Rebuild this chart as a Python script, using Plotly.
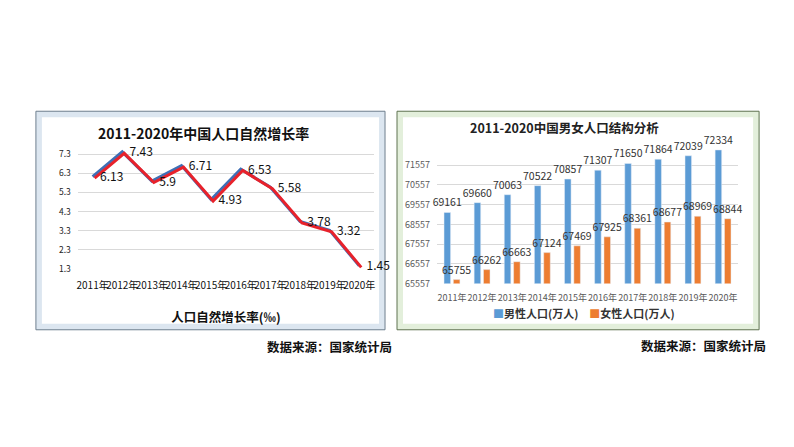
import plotly.graph_objects as go

W, H = 794, 447

years = ["2011年", "2012年", "2013年", "2014年", "2015年", "2016年", "2017年", "2018年", "2019年", "2020年"]
growth_rate = [6.13, 7.43, 5.9, 6.71, 4.93, 6.53, 5.58, 3.78, 3.32, 1.45]
growth_ticks = [1.3, 2.3, 3.3, 4.3, 5.3, 6.3, 7.3]

male_pop = [69161, 69660, 70063, 70522, 70857, 71307, 71650, 71864, 72039, 72334]
female_pop = [65755, 66262, 66663, 67124, 67469, 67925, 68361, 68677, 68969, 68844]
pop_ticks = [65557, 66557, 67557, 68557, 69557, 70557, 71557]

series_names = ["男性人口(万人)", "女性人口(万人)"]
series_colors = ["#5B9BD5", "#ED7D31"]

CJK = "Noto Sans CJK SC"


def px_x(p):
    return p / W


def px_y(p):
    return 1 - p / H


fig = go.Figure()

# Left chart: blue line on the main axes, red line on a slightly offset overlay
fig.add_trace(go.Scatter(
    x=years, y=growth_rate, mode="lines", xaxis="x", yaxis="y",
    line=dict(color="#3F6FB5", width=3), showlegend=False, hoverinfo="skip"))
fig.add_trace(go.Scatter(
    x=years, y=growth_rate, mode="lines+text", xaxis="x3", yaxis="y3",
    line=dict(color="#E8222B", width=3),
    text=["\u00a0\u00a0" + str(v) for v in growth_rate], textposition="middle right",
    textfont=dict(family=CJK, size=12, color="#111111"),
    cliponaxis=False, showlegend=False))

# Right chart: grouped bars
fig.add_trace(go.Bar(
    x=years, y=male_pop, name=series_names[0], xaxis="x2", yaxis="y2",
    marker=dict(color=series_colors[0]),
    text=[str(v) for v in male_pop], textposition="outside", constraintext="none",
    textfont=dict(family=CJK, size=10.5, color="#333333"), cliponaxis=False,
    showlegend=False))
fig.add_trace(go.Bar(
    x=years, y=female_pop, name=series_names[1], xaxis="x2", yaxis="y2",
    marker=dict(color=series_colors[1]),
    text=[str(v) for v in female_pop], textposition="outside", constraintext="none",
    textfont=dict(family=CJK, size=10.5, color="#333333"), cliponaxis=False,
    showlegend=False))

# axis geometry (pixels)
lx0, lx1 = 78, 375
ly_bot, ly_top = 272, 150
rx0, rx1 = 437, 739
ry_bot, ry_top = 287, 146

fig.update_layout(
    width=W, height=H, margin=dict(l=0, r=0, t=0, b=0),
    paper_bgcolor="white", plot_bgcolor="rgba(0,0,0,0)",
    barmode="group", bargap=0.38, bargroupgap=0.3,
    showlegend=False,
    xaxis=dict(domain=[px_x(lx0 - 1), px_x(lx1 - 1)], anchor="y", type="category",
               range=[-0.5, 9.5], tickangle=0, showgrid=False, showline=False,
               ticks="", ticklabelstandoff=9,
               tickfont=dict(family=CJK, size=10, color="#111111"),
               title=dict(text="<b>人口自然增长率(‰)</b>", standoff=22,
                          font=dict(family=CJK, size=12.5, color="#111111"))),
    yaxis=dict(domain=[px_y(ly_bot), px_y(ly_top)], anchor="x",
               range=[1.3, 7.6], tickvals=growth_ticks,
               ticktext=[f"{v:.1f}" for v in growth_ticks],
               showgrid=True, gridcolor="#D9D9D9", gridwidth=1,
               zeroline=False, showline=False, ticks="", ticklabelstandoff=6,
               tickfont=dict(family=CJK, size=8.5, color="#222222")),
    xaxis3=dict(domain=[px_x(lx0 + 1), px_x(lx1 + 1)], anchor="y3", type="category",
                range=[-0.5, 9.5], visible=False),
    yaxis3=dict(domain=[px_y(ly_bot + 1.5), px_y(ly_top + 1.5)], anchor="x3",
                range=[1.3, 7.6], visible=False),
    xaxis2=dict(domain=[px_x(rx0), px_x(rx1)], anchor="y2", type="category",
                tickangle=0, showgrid=False, showline=False, ticks="",
                ticklabelstandoff=7,
                tickfont=dict(family=CJK, size=9, color="#595959")),
    yaxis2=dict(domain=[px_y(ry_bot), px_y(ry_top)], anchor="x2",
                range=[65557, 72600], tickvals=pop_ticks,
                ticktext=[str(v) for v in pop_ticks],
                showgrid=True, gridcolor="#D9D9D9", gridwidth=1,
                zeroline=False, showline=False, ticks="", ticklabelstandoff=6,
                tickfont=dict(family=CJK, size=9, color="#595959")),
)

shapes = []
# left frame
shapes.append(dict(type="rect", xref="paper", yref="paper",
                   x0=px_x(35), x1=px_x(385), y0=px_y(334), y1=px_y(112),
                   fillcolor="#DCE6F0", line=dict(color="#6E7F8E", width=1), layer="below"))
shapes.append(dict(type="rect", xref="paper", yref="paper",
                   x0=px_x(41), x1=px_x(379), y0=px_y(328), y1=px_y(118),
                   fillcolor="white", line=dict(width=0), layer="below"))
# right frame
shapes.append(dict(type="rect", xref="paper", yref="paper",
                   x0=px_x(397), x1=px_x(760), y0=px_y(334), y1=px_y(112),
                   fillcolor="#E3EFDB", line=dict(color="#5E7250", width=1), layer="below"))
shapes.append(dict(type="rect", xref="paper", yref="paper",
                   x0=px_x(403), x1=px_x(754), y0=px_y(328), y1=px_y(118),
                   fillcolor="white", line=dict(width=0), layer="below"))
fig.update_layout(shapes=shapes)

legend_text = "\u2003".join(
    f'<span style="color:{c}">■</span><b>{n}</b>' for n, c in zip(series_names, series_colors))

annotations = [
    dict(text="<b>2011-2020年中国人口自然增长率</b>", xref="paper", yref="paper",
         x=px_x(203), y=px_y(134), xanchor="center", yanchor="middle", showarrow=False,
         font=dict(family=CJK, size=14, color="#111111")),
    dict(text="<b>2011-2020中国男女人口结构分析</b>", xref="paper", yref="paper",
         x=px_x(565), y=px_y(129), xanchor="center", yanchor="middle", showarrow=False,
         font=dict(family=CJK, size=12.5, color="#222222")),
    dict(text=legend_text, xref="paper", yref="paper",
         x=px_x(584), y=px_y(317), xanchor="center", yanchor="middle", showarrow=False,
         font=dict(family=CJK, size=11, color="#333333")),
    dict(text="<b>数据来源：国家统计局</b>", xref="paper", yref="paper",
         x=px_x(265), y=px_y(351), xanchor="left", yanchor="middle", showarrow=False,
         font=dict(family=CJK, size=12.5, color="#111111")),
    dict(text="<b>数据来源：国家统计局</b>", xref="paper", yref="paper",
         x=px_x(640), y=px_y(350), xanchor="left", yanchor="middle", showarrow=False,
         font=dict(family=CJK, size=12.5, color="#111111")),
]
fig.update_layout(annotations=annotations)

fig.write_html("out.html")
